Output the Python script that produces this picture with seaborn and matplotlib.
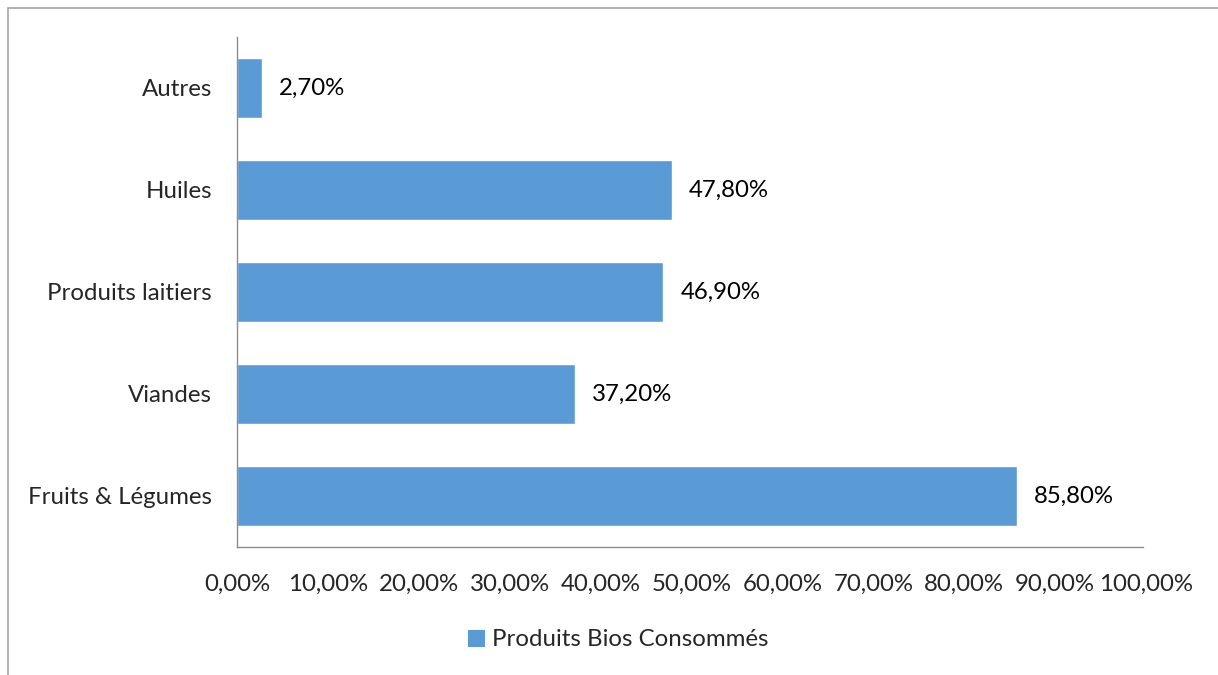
import matplotlib
matplotlib.use("Agg")
import matplotlib.pyplot as plt
import seaborn as sns
import pandas as pd
from matplotlib.lines import Line2D
from matplotlib.patches import Patch

categories = ["Autres", "Huiles", "Produits laitiers", "Viandes", "Fruits & Légumes"]
values = [2.70, 47.80, 46.90, 37.20, 85.80]
tick_values = [0, 10, 20, 30, 40, 50, 60, 70, 80, 90, 100]
series_name = "Produits Bios Consommés"

df = pd.DataFrame({"cat": categories, "val": values})

sns.set_theme(style="white")
plt.rcParams["font.family"] = ["Lato", "DejaVu Sans"]

fs = 17.3
fig = plt.figure(figsize=(12.18, 6.75), dpi=100)
ax = fig.add_axes([237/1218, 1-547/675, (1146-237)/1218, (547-37)/675])

color = "#5B9BD5"
sns.barplot(data=df, x="val", y="cat", order=categories, color=color,
            width=0.58, saturation=1, ax=ax)

ax.set_xlim(0, 100)
ax.set_ylim(4.5, -0.5)
ax.set_xticks(tick_values)
ax.set_xticklabels([f"{v:.2f}".replace(".", ",") + "%" for v in tick_values], fontsize=fs)
ax.tick_params(axis="x", length=0, pad=19)
ax.tick_params(axis="y", length=0, pad=18, labelsize=fs)
ax.set_xlabel("")
ax.set_ylabel("")
for s in ["top", "right"]:
    ax.spines[s].set_visible(False)
ax.spines["left"].set_color("#8c8c8c")
ax.spines["bottom"].set_color("#8c8c8c")
ax.spines["left"].set_linewidth(1)
ax.spines["bottom"].set_linewidth(1)
ax.spines["bottom"].set_bounds(0, 99.7)

for i, v in enumerate(values):
    ax.text(v + 1.9, i, f"{v:.2f}".replace(".", ",") + "%", va="center", ha="left",
            fontsize=fs, color="black")

handle = Patch(facecolor=color, edgecolor="none")
fig.legend([handle], [series_name], loc="center", bbox_to_anchor=(618/1218, 1-640/675),
           frameon=False, fontsize=fs, handlelength=0.7, handleheight=0.7, handletextpad=0.3)

x0 = 8/1218
y0 = 1 - 8/675
fig.add_artist(Line2D([x0, 1.0], [y0, y0], transform=fig.transFigure, color="#a6a6a6", linewidth=1.2))
fig.add_artist(Line2D([x0, x0], [0.0, y0], transform=fig.transFigure, color="#a6a6a6", linewidth=1.2))

fig.savefig("out.png", dpi=100)
